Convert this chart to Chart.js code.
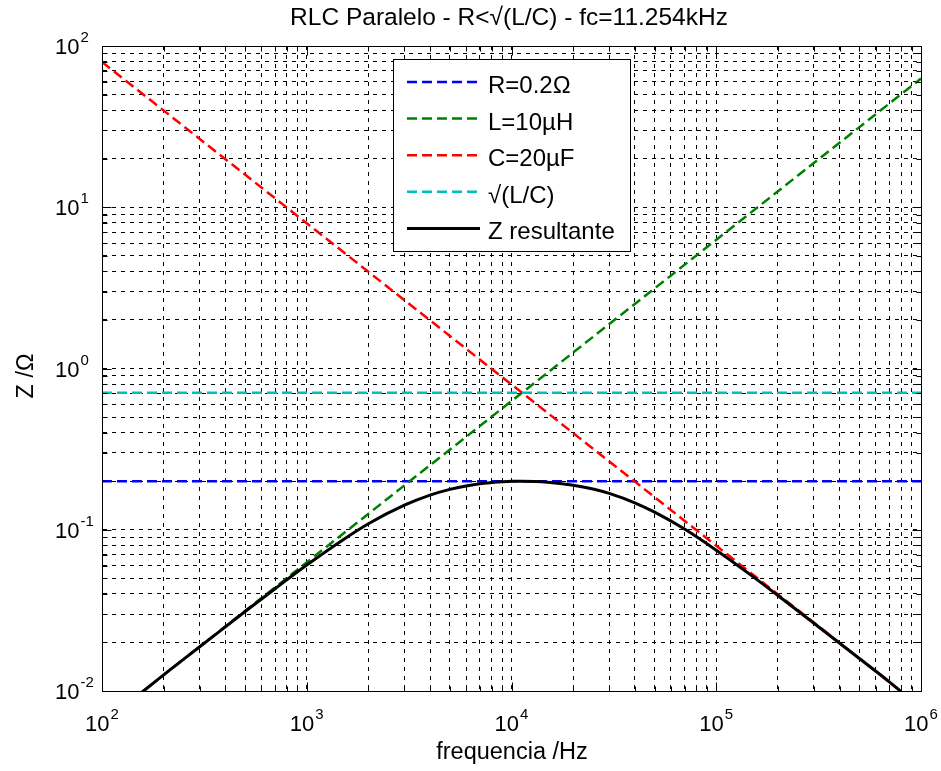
<!DOCTYPE html>
<html>
<head>
<meta charset="utf-8">
<script src="https://cdn.jsdelivr.net/npm/chart.js@4"></script>
<style>
  body{margin:0;background:#fff;}
  #wrap{width:941px;height:771px;}
</style>
</head>
<body>
<div id="wrap"><canvas id="c" width="941" height="771"></canvas></div>
<script>
// valores (log-log)
const xMajor = [1e2, 1e3, 1e4, 1e5, 1e6];
const xTickExp = ['2', '3', '4', '5', '6'];
const yMajor = [1e-2, 1e-1, 1e0, 1e1, 1e2];
const yTickExp = ['-2', '-1', '0', '1', '2'];

const freqR = [1e2, 1e6];
const zR = [0.2, 0.2];
const freqL = [1e2, 1e6];
const zL = [0.00628, 62.8];
const freqC = [1e2, 1e6];
const zC = [79.6, 0.00796];
const freqS = [1e2, 1e6];
const zS = [0.707, 0.707];
const freqZ = [150, 200, 300, 500, 700, 1000, 1500, 2000, 3000, 4000, 5000, 6000, 7000, 8000, 10000, 11254, 13000, 15000, 20000, 25000, 30000, 40000, 50000, 70000, 100000, 150000, 200000, 300000, 500000, 700000, 800000];
const zZ = [0.0094, 0.0126, 0.0188, 0.0311, 0.0431, 0.0604, 0.0865, 0.109, 0.142, 0.164, 0.178, 0.187, 0.193, 0.196, 0.1996, 0.2, 0.1993, 0.197, 0.189, 0.179, 0.168, 0.147, 0.1285, 0.101, 0.0747, 0.0516, 0.0391, 0.0263, 0.0159, 0.0114, 0.0099];

const seriesNames = ['R=0.2Ω', 'L=10µH', 'C=20µF', '√(L/C)', 'Z resultante'];
const seriesColors = ['#0000ff', '#008000', '#ff0000', '#00bfbf', '#000000'];

const TITLE = 'RLC Paralelo - R<√(L/C) - fc=11.254kHz';
const XLABEL = 'frequencia /Hz';
const YLABEL = 'Z /Ω';
const FONT = '"Liberation Sans", Arial, sans-serif';

const pts = (xs, ys) => xs.map((x, i) => ({x, y: ys[i]}));
// grelha: 1..9 por década
const gridVals = m => { const out = []; m.forEach((d, i) => { for (let k = 1; k <= (i === m.length - 1 ? 1 : 9); k++) out.push(d * k); }); return out; };

const DASH = [10, 5];
const ds = (i, data, dashed, order) => ({
  label: seriesNames[i], data, borderColor: seriesColors[i], borderWidth: dashed ? 2.5 : 3,
  borderDash: dashed ? DASH : [], pointRadius: 0, fill: false, order,
  cubicInterpolationMode: dashed ? 'default' : 'monotone'
});

function powLabel(ctx, exp, x, yBase, centered){
  ctx.font = '22px ' + FONT;
  const wb = ctx.measureText('10').width;
  ctx.font = '15px ' + FONT;
  const we = ctx.measureText(exp).width;
  const x0 = centered ? x - (wb + we + 1) / 2 : x;
  ctx.font = '22px ' + FONT;
  ctx.fillText('10', x0, yBase);
  ctx.font = '15px ' + FONT;
  ctx.fillText(exp, x0 + wb + 1, yBase - 12);
}

const decor = {
  id: 'decor',
  afterDraw(chart){
    const {ctx, chartArea: a, scales: {x, y}} = chart;
    const L = Math.round(a.left) + 0.5, R = Math.round(a.right) + 0.5;
    const T = Math.round(a.top) + 0.5, B = Math.round(a.bottom) + 0.5;
    ctx.save();
    ctx.strokeStyle = '#000'; ctx.lineWidth = 1; ctx.setLineDash([]);
    ctx.strokeRect(L, T, R - L, B - T);
    // marcas internas
    ctx.beginPath();
    gridVals(xMajor).forEach(v => {
      const len = xMajor.includes(v) ? 9 : 5;
      const px = Math.round(x.getPixelForValue(v)) + 0.5;
      ctx.moveTo(px, B); ctx.lineTo(px, B - len);
      ctx.moveTo(px, T); ctx.lineTo(px, T + len);
    });
    gridVals(yMajor).forEach(v => {
      const len = yMajor.includes(v) ? 9 : 5;
      const py = Math.round(y.getPixelForValue(v)) + 0.5;
      ctx.moveTo(L, py); ctx.lineTo(L + len, py);
      ctx.moveTo(R, py); ctx.lineTo(R - len, py);
    });
    ctx.stroke();

    ctx.fillStyle = '#000';
    ctx.textBaseline = 'alphabetic';
    ctx.textAlign = 'left';
    yMajor.forEach((v, i) => powLabel(ctx, yTickExp[i], 55, y.getPixelForValue(v) + 8, false));
    xMajor.forEach((v, i) => powLabel(ctx, xTickExp[i], x.getPixelForValue(v), B + 39, true));

    ctx.textAlign = 'center';
    ctx.font = '24.5px ' + FONT;
    ctx.fillText(TITLE, 509, 25);
    ctx.font = '23.5px ' + FONT;
    ctx.fillText(XLABEL, (L + R) / 2, 759);
    ctx.save();
    ctx.translate(33, 376);
    ctx.rotate(-Math.PI / 2);
    ctx.fillText(YLABEL, 0, 0);
    ctx.restore();

    // legenda
    const bx = 393.5, by = 59.5, bw = 237, bh = 192;
    ctx.fillStyle = '#fff';
    ctx.fillRect(bx, by, bw, bh);
    ctx.strokeStyle = '#000'; ctx.lineWidth = 1;
    ctx.strokeRect(bx, by, bw, bh);
    ctx.textAlign = 'left';
    ctx.font = '24px ' + FONT;
    seriesNames.forEach((n, i) => {
      const ly = 82 + i * 36.6;
      ctx.strokeStyle = seriesColors[i];
      ctx.lineWidth = i === 4 ? 3 : 2.5;
      ctx.setLineDash(i === 4 ? [] : DASH);
      ctx.beginPath(); ctx.moveTo(407, ly); ctx.lineTo(480, ly); ctx.stroke();
      ctx.fillStyle = '#000';
      ctx.fillText(n, 488, ly + 11);
    });
    ctx.restore();
  }
};

new Chart(document.getElementById('c'), {
  type: 'line',
  data: {
    datasets: [
      ds(0, pts(freqR, zR), true, 4),
      ds(1, pts(freqL, zL), true, 3),
      ds(2, pts(freqC, zC), true, 2),
      ds(3, pts(freqS, zS), true, 1),
      ds(4, pts(freqZ, zZ), false, 0)
    ]
  },
  options: {
    responsive: false, animation: false, events: [],
    layout: {padding: {left: 102, top: 46, right: 20, bottom: 80}},
    plugins: {legend: {display: false}, tooltip: {enabled: false}, title: {display: false}},
    scales: {
      x: {
        type: 'logarithmic', min: 1e2, max: 1e6,
        afterBuildTicks: s => { s.ticks = gridVals(xMajor).map(v => ({value: v})); },
        ticks: {display: false, autoSkip: false},
        grid: {color: '#000', lineWidth: 1, drawTicks: false},
        border: {display: true, color: '#000', dash: [4, 5]}
      },
      y: {
        type: 'logarithmic', min: 1e-2, max: 1e2,
        afterBuildTicks: s => { s.ticks = gridVals(yMajor).map(v => ({value: v})); },
        ticks: {display: false, autoSkip: false},
        grid: {color: '#000', lineWidth: 1, drawTicks: false},
        border: {display: true, color: '#000', dash: [4, 5]}
      }
    }
  },
  plugins: [decor]
});
</script>
</body>
</html>
